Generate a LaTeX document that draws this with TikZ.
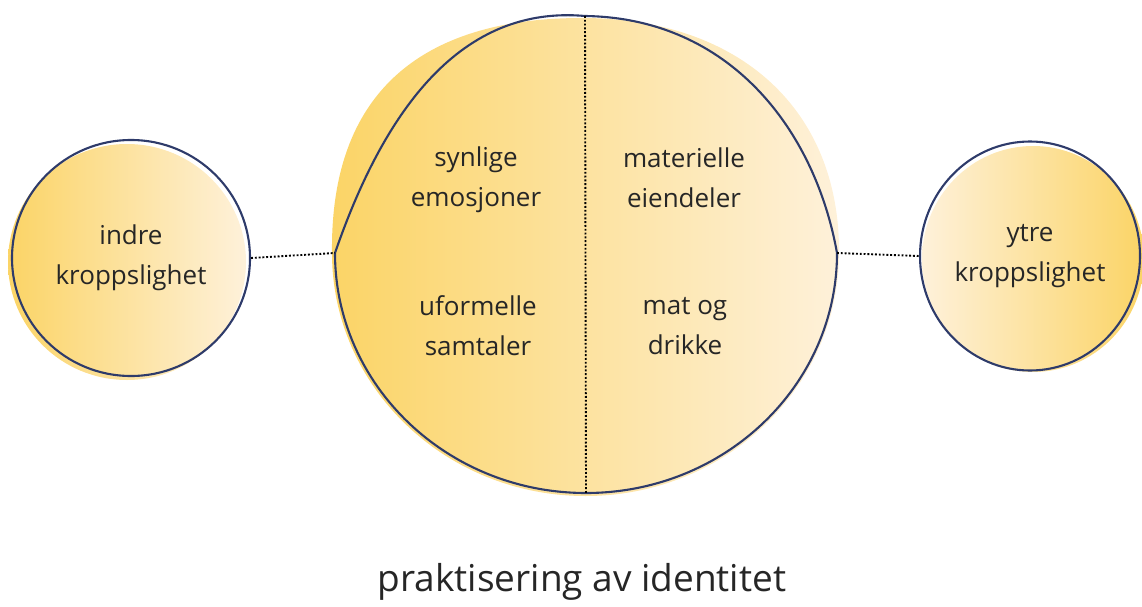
\documentclass[tikz,border=0pt]{standalone}
\usepackage{fontspec}
\setmainfont{Open Sans}
\usepackage{tikz}
\usetikzlibrary{shapes.geometric}
\definecolor{Rim}{HTML}{2E3B6A}
\definecolor{Ink}{HTML}{262626}
\definecolor{DeepSun}{HTML}{FBD466}
\definecolor{PaleSun}{HTML}{FEF1DA}
\tikzset{
  bubble/.style={draw=Rim, ellipse, line width=2.1pt, inner sep=0pt, align=center, text=Ink, font=\fontsize{26}{40}\selectfont},
  rim/.style={draw=Rim, line width=2.1pt},
  label/.style={align=center, text=Ink, font=\fontsize{26}{40}\selectfont},
  dotline/.style={draw=black, line width=1.9pt, dash pattern=on 1.9pt off 1.9pt}
}

\begin{document}
\begin{tikzpicture}[x=1pt, y=-1pt]
  \useasboundingbox (0,0) rectangle (1142,607);
  % soft fills behind the outlines
  \shade[left color=DeepSun, right color=PaleSun] (127,262) ellipse [x radius=119, y radius=118];
  \shade[left color=DeepSun, right color=PaleSun] (332,253) .. controls (330,85) and (430,18) .. (582,18)
    .. controls (740,18) and (840,110) .. (839,253)
    arc[start angle=0, end angle=180, x radius=253.5, y radius=243] -- cycle;
  \shade[left color=PaleSun, right color=DeepSun] (1033,259) ellipse [x radius=111, y radius=113];
  % outer circles
  \node[bubble, minimum width=238pt, minimum height=236pt] (indre) at (131,258) {indre\\kroppslighet};
  \node[bubble, minimum width=220pt, minimum height=229pt] (ytre) at (1030,256) {ytre\\kroppslighet};
  % centre shape
  \coordinate (kjerneW) at (335,253);
  \coordinate (kjerneE) at (837,253);
  \coordinate (kjerneN) at (585,16);
  \coordinate (kjerneS) at (586,493);
  \draw[rim] (kjerneW) .. controls (385,108) and (462,5) .. (kjerneN)
    .. controls (730,18) and (815,130) .. (kjerneE)
    arc[start angle=0, end angle=180, x radius=251, y radius=240];
  \draw[dotline] (kjerneN) -- (kjerneS);
  \node[label] (synlige) at (476,180) {synlige\\emosjoner};
  \node[label] (materielle) at (684,178) {materielle\\eiendeler};
  \node[label] (uformelle) at (478,326) {uformelle\\samtaler};
  \node[label] (mat) at (685,326) {mat og\\drikke};
  % links
  \draw[dotline] (indre.east) -- (kjerneW);
  \draw[dotline] (kjerneE) -- (ytre.west);
  \node[label, font=\fontsize{37}{40}\selectfont] (tittel) at (582,582) {praktisering av identitet};
\end{tikzpicture}
\end{document}
